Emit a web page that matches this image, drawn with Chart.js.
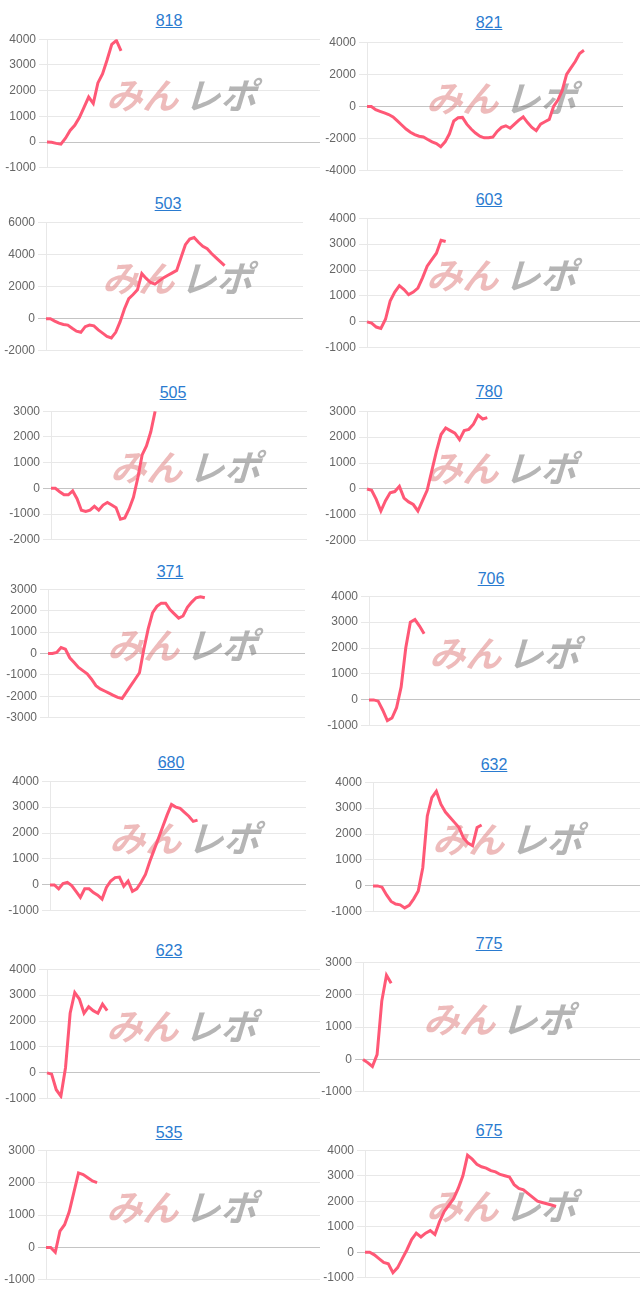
<!DOCTYPE html>
<html><head><meta charset="utf-8">
<script src="https://cdn.jsdelivr.net/npm/chart.js@4.4.1/dist/chart.umd.min.js"></script>
<style>
html,body{margin:0;padding:0;background:#fff;width:640px;height:1303px;overflow:hidden;position:relative;font-family:"Liberation Sans",Arial,sans-serif;}
.t{position:absolute;transform:translate(-50%,-50%);color:#2a7bd0;text-decoration:underline;font-size:16px;white-space:nowrap;line-height:18px;}
.c{position:absolute;}
</style></head><body>
<script>
// ---- data ----
const titles = ['818','821','503','603','505','780','371','706','680','632','623','775','535','675'];
const s818 = [0,-10,-50,-80,150,450,650,950,1350,1750,1500,2300,2650,3200,3800,3950,3550];
const s821 = [0,0,-200,-300,-400,-500,-650,-900,-1150,-1400,-1600,-1750,-1850,-1900,-2050,-2200,-2300,-2500,-2200,-1700,-900,-700,-680,-1100,-1400,-1650,-1850,-1950,-1950,-1900,-1550,-1300,-1200,-1350,-1100,-850,-650,-1000,-1300,-1500,-1100,-950,-800,0,400,1000,2000,2400,2800,3300,3500];
const s503 = [0,0,-150,-280,-360,-400,-600,-780,-850,-500,-400,-450,-700,-900,-1100,-1200,-850,-200,600,1250,1500,1800,2800,2500,2250,2150,2350,2550,2700,2850,3000,3800,4600,4950,5050,4750,4500,4350,4050,3800,3550,3300];
const s603 = [0,-50,-200,-250,100,800,1150,1400,1250,1050,1150,1300,1700,2150,2400,2650,3150,3100];
const s505 = [0,0,-130,-250,-250,-100,-400,-850,-900,-850,-700,-850,-650,-550,-650,-750,-1200,-1150,-800,-350,400,1300,1650,2200,3000];
const s780 = [0,-50,-400,-850,-450,-150,-100,100,-350,-500,-600,-850,-450,-50,700,1450,2100,2350,2250,2150,1900,2250,2300,2500,2850,2700,2750];
const s371 = [0,0,50,280,200,-200,-420,-650,-800,-950,-1200,-1500,-1650,-1750,-1850,-1950,-2050,-2100,-1800,-1500,-1200,-900,200,1150,1900,2200,2350,2350,2050,1850,1650,1750,2150,2400,2600,2650,2600];
const s706 = [0,0,-50,-400,-800,-700,-300,500,2000,3000,3100,2850,2550];
const s680 = [0,0,-150,50,100,-30,-250,-480,-150,-150,-300,-400,-550,-100,150,280,300,-50,150,-250,-150,100,400,900,1350,1800,2250,2700,3100,3000,2950,2800,2650,2450,2500];
const s632 = [0,0,-50,-350,-600,-700,-730,-850,-750,-500,-200,700,2700,3400,3650,3150,2850,2650,2450,2250,1850,1650,1550,2250,2350];
const s623 = [0,-50,-650,-900,200,2300,3100,2850,2300,2550,2400,2300,2650,2400];
const s775 = [0,-100,-220,150,1800,2600,2350];
const s535 = [0,0,-150,500,700,1100,1700,2300,2250,2150,2050,2000];
const s675 = [0,0,-100,-250,-400,-450,-800,-600,-250,100,500,750,600,750,850,700,1200,1600,1850,2100,2500,3000,3800,3650,3450,3350,3300,3200,3150,3050,3000,2950,2650,2500,2450,2300,2150,2000,1950,1900,1850,1800];
const series = [s818,s821,s503,s603,s505,s780,s371,s706,s680,s632,s623,s775,s535,s675];
const yMin  = [-1000,-4000,-2000,-1000,-2000,-2000,-3000,-1000,-1000,-1000,-1000,-1000,-1000,-1000];
const yMax  = [4000,4000,6000,4000,3000,3000,3000,4000,4000,4000,4000,3000,3000,4000];
const yStep = [1000,2000,2000,1000,1000,1000,1000,1000,1000,1000,1000,1000,1000,1000];
const xCount = 60;
const xLabels = Array.from({length:xCount},(_,i)=>String(i+1));

// ---- layout (positions only) ----
// [cellLeft, gridTop, gridBottom, axisX, gridRight, titleX, titleY, wmX]
const boxes = [
 [0,39,168,47,320,169,21,185],
 [320,42,171,367,623,489,23,505],
 [0,222,351,46,303,168,204,181],
 [320,218,348,367,640,489,200,505],
 [0,411,540,51,307,173,393,189],
 [320,411,541,367,640,489,392,505],
 [0,589,718,48,305,170,572,186],
 [320,596,726,369,640,491,579,508],
 [0,781,911,50,306,171,763,188],
 [320,782,912,373,640,494,765,511],
 [0,969,1099,47,320,169,951,185],
 [320,962,1092,363,640,489,944,502],
 [0,1150,1280,46,320,169,1133,185],
 [320,1150,1278,365,640,489,1131,505]
];

const watermark = {
  id:'wm',
  beforeDatasetsDraw(chart, args, opts){
    const ctx = chart.ctx;
    const a = chart.chartArea;
    const x = opts.x, y = (a.top + a.bottom)/2 - 8;
    ctx.save();
    ctx.translate(x, y);
    ctx.transform(1,0,-0.3,1,0,0);
    ctx.font = 'bold 36px "Noto Sans CJK JP"';
    ctx.textBaseline = 'middle';
    const w1 = ctx.measureText('みん').width;
    const w2 = ctx.measureText('レポ').width;
    const gap = 6;
    const total = w1 + gap + w2;
    ctx.lineJoin = 'round';
    ctx.fillStyle = 'rgba(222,120,120,0.5)';
    ctx.strokeStyle = 'rgba(222,120,120,0.5)';
    ctx.lineWidth = 1.5;
    ctx.fillText('みん', -total/2, 0);
    ctx.fillStyle = 'rgba(120,120,120,0.55)';
    ctx.fillText('レポ', -total/2 + w1 + gap, 0);
    ctx.restore();
  }
};

boxes.forEach((b, i) => {
  const [cl, gt, gb, ax, gr, tx, ty, wx] = b;
  const t = document.createElement('a');
  t.className = 't';
  t.textContent = titles[i];
  t.style.left = tx + 'px';
  t.style.top = ty + 'px';
  document.body.appendChild(t);

  const pad = 10;
  const cv = document.createElement('canvas');
  cv.className = 'c';
  const W = gr - cl, H = gb - gt + pad*2;
  cv.width = W; cv.height = H;
  cv.style.left = cl + 'px';
  cv.style.top = (gt - pad) + 'px';
  cv.style.width = W + 'px';
  cv.style.height = H + 'px';
  document.body.appendChild(cv);

  new Chart(cv, {
    type: 'line',
    data: {
      labels: xLabels,
      datasets: [{
        data: series[i],
        borderColor: 'rgb(255,88,118)',
        borderWidth: 3,
        pointRadius: 0,
        tension: 0,
        fill: false
      }]
    },
    options: {
      responsive: false,
      animation: false,
      layout: {padding: {top: pad, bottom: pad, left: 0, right: 0}},
      plugins: {legend: {display: false}, tooltip: {enabled: false}, wm: {x: wx - cl}},
      scales: {
        x: {display: false},
        y: {
          min: yMin[i], max: yMax[i],
          afterFit(scale){ scale.width = ax - cl; },
          ticks: {stepSize: yStep[i], color: '#666', font: {size: 12, family: '"Liberation Sans", Arial, sans-serif'}, callback: v => String(v)},
          grid: {color: c => (c.tick && c.tick.value === 0) ? '#c4c4c4' : '#e8e8e8', lineWidth: 1, tickLength: 8},
          border: {display: true, color: '#e8e8e8'}
        }
      }
    },
    plugins: [watermark]
  });
});
</script>
</body></html>
